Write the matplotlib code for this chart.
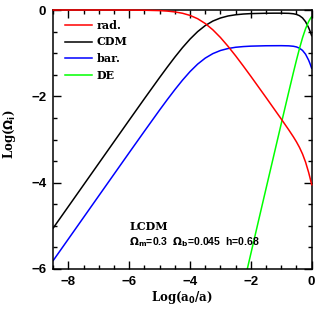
import matplotlib
matplotlib.use("Agg")
import matplotlib.pyplot as plt
from matplotlib.ticker import MultipleLocator

# ---- data (log10 of density parameters) ----
log_a = [-8.5, -7, -6, -5.5, -5, -4.75, -4.5, -4.25, -4, -3.75, -3.5, -3.25, -3,
         -2.75, -2.5, -2.25, -2, -1.5, -1.25, -1, -0.75, -0.6, -0.5, -0.4, -0.3,
         -0.2, -0.1, -0.05, 0]
rad = [0.0, 0.0, -0.001, -0.005, -0.014, -0.025, -0.044, -0.075, -0.125, -0.202,
       -0.313, -0.459, -0.637, -0.841, -1.062, -1.296, -1.536, -2.027, -2.276,
       -2.525, -2.779, -2.939, -3.054, -3.183, -3.335, -3.523, -3.759, -3.897, -4.046]
cdm = [-5.048, -3.548, -2.549, -2.052, -1.562, -1.323, -1.091, -0.872, -0.673,
       -0.500, -0.360, -0.256, -0.185, -0.138, -0.110, -0.093, -0.083, -0.075,
       -0.073, -0.073, -0.077, -0.087, -0.102, -0.131, -0.183, -0.271, -0.407,
       -0.494, -0.593]
bar = [-5.801, -4.301, -3.302, -2.806, -2.315, -2.076, -1.845, -1.626, -1.426,
       -1.253, -1.114, -1.010, -0.938, -0.892, -0.863, -0.847, -0.837, -0.828,
       -0.827, -0.826, -0.830, -0.840, -0.855, -0.884, -0.936, -1.024, -1.160,
       -1.248, -1.347]
log_a_de = [-2.25, -2.12, -2, -1.75, -1.5, -1.25, -1, -0.75, -0.6, -0.5, -0.4,
            -0.3, -0.2, -0.1, -0.05, 0]
de = [-6.405, -6.009, -5.645, -4.889, -4.136, -3.385, -2.634, -1.889, -1.448,
      -1.163, -0.892, -0.644, -0.433, -0.269, -0.206, -0.155]

labels = ["rad.", "CDM", "bar.", "DE"]
colors = ["#ff0000", "#000000", "#0000ff", "#00ff00"]

fig = plt.figure(figsize=(3.27, 3.13), dpi=100)
ax = fig.add_axes([0.163, 0.1406, 0.790, 0.8274])

lw = 1.1
ax.plot(log_a, rad, color=colors[0], lw=lw, label=labels[0], clip_on=False, zorder=3)
ax.plot(log_a, cdm, color=colors[1], lw=lw, label=labels[1])
ax.plot(log_a, bar, color=colors[2], lw=lw, label=labels[2])
ax.plot(log_a_de, de, color=colors[3], lw=lw, label=labels[3])

ax.set_xlim(-8.5, 0)
ax.set_ylim(-6, 0)
ax.xaxis.set_major_locator(MultipleLocator(2))
ax.xaxis.set_minor_locator(MultipleLocator(0.5))
ax.yaxis.set_major_locator(MultipleLocator(2))
ax.yaxis.set_minor_locator(MultipleLocator(0.5))
ax.tick_params(which="both", direction="in", top=True, right=True, width=1.0)
ax.tick_params(which="major", length=5.5, pad=5)
ax.tick_params(which="minor", length=3)
for sp in ax.spines.values():
    sp.set_linewidth(1.1)
for t in ax.get_xticklabels() + ax.get_yticklabels():
    t.set_fontfamily("Liberation Sans")
    t.set_fontweight("bold")
    t.set_fontsize(9.5)

serif = "DejaVu Serif"
ax.set_xlabel(r"Log(a$_\mathbf{0}$/a)", fontfamily=serif, fontweight="bold", fontsize=8.5, labelpad=1)
ax.set_ylabel(r"Log($\mathbf{\Omega}_\mathbf{i}$)", fontfamily=serif, fontweight="bold", fontsize=8.5)
ax.yaxis.set_label_coords(-0.135, 0.52)

leg = ax.legend(loc="upper left", bbox_to_anchor=(0.045, 0.962), borderaxespad=0,
                borderpad=0, frameon=False, handlelength=2.4, handletextpad=0.45,
                labelspacing=0.5, prop={"family": serif, "weight": "bold", "size": 8})

ax.text(-6.0, -5.02, "LCDM", fontfamily=serif, fontweight="bold", fontsize=8,
        va="center", ha="left")
ax.text(-6.02, -5.37, r"$\mathbf{\Omega_m}$=0.3  $\mathbf{\Omega_b}$=0.045  h=0.68",
        fontfamily="Liberation Sans", fontweight="bold", fontsize=7.6, va="center", ha="left")

fig.savefig("out.png", dpi=100)
